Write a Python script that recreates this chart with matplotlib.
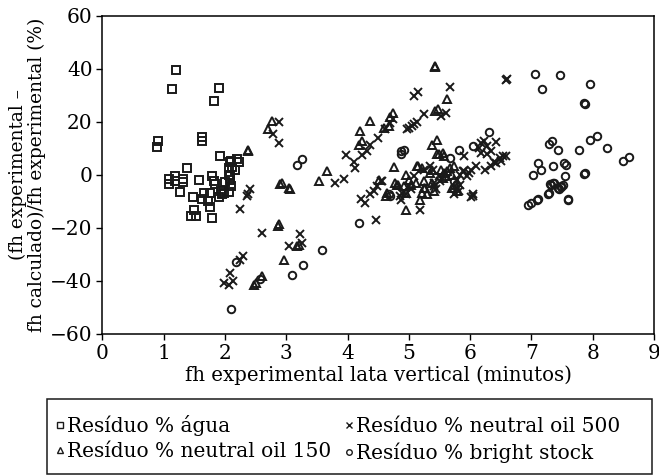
import matplotlib
matplotlib.use("Agg")
import matplotlib.pyplot as plt
from matplotlib.lines import Line2D
from matplotlib.patches import Rectangle

plt.rcParams['font.family'] = ['DejaVu Serif']

# Resíduo % água (squares)
agua_x = [1.20, 1.14, 1.90, 1.83, 0.91, 0.89, 1.63, 1.62, 1.92, 1.38,
          2.10, 2.20, 2.23, 2.06, 2.16, 2.08,
          1.09, 1.18, 1.09, 1.19, 1.32, 1.31, 1.58, 1.79, 1.83, 1.84,
          1.26, 1.48, 1.66, 1.76, 1.62, 1.72, 1.76, 1.49, 1.45, 1.53, 1.79,
          1.90, 1.94, 1.98, 1.95, 2.00, 2.09, 2.10, 2.06, 2.06, 2.12, 2.09]
agua_y = [39.5, 32.2, 32.7, 27.7, 12.6, 10.4, 14.2, 12.8, 7.2, 2.4,
          5.1, 6.0, 4.8, 2.6, 2.0, -0.3,
          -1.5, -0.5, -3.4, -2.4, -1.5, -2.6, -2.0, -0.5, -2.2, -3.4,
          -6.6, -8.5, -6.8, -6.8, -9.1, -10.0, -12.2, -13.4, -15.4, -15.4, -16.2,
          -8.5, -6.2, -6.8, -7.2, -2.6, -1.8, -4.3, -6.6, 0.1, 2.9, 4.8]

# Resíduo % neutral oil 150 (triangles)
no150_x = [2.37, 2.38, 2.77, 2.70, 3.66, 3.53, 2.90, 2.93, 3.04, 3.06, 2.86, 2.88,
           3.18, 3.21, 2.96, 2.47, 2.50, 2.60,
           4.21, 4.23, 4.19, 4.36, 4.74, 4.70, 4.67, 4.60, 5.42, 5.47, 5.46, 5.38, 4.76,
           5.42, 5.43, 5.62,
           4.51, 4.65, 4.62, 4.96, 5.14, 4.96, 5.19, 4.81, 4.92, 4.95, 5.25, 5.22, 5.11,
           5.46, 5.49, 5.55, 5.57, 5.15, 5.22, 5.35, 5.38, 5.00, 4.78, 4.83, 5.25, 5.03,
           5.52, 5.57, 5.63, 5.68, 5.73, 5.55, 5.60, 5.71, 5.38, 5.30, 5.27, 5.41,
           5.71, 5.76, 5.79]
no150_y = [9.2, 9.0, 20.2, 17.1, 1.4, -2.2, -3.3, -3.0, -4.9, -5.3, -19.1, -18.5,
           -26.9, -26.5, -32.0, -41.4, -40.8, -38.3,
           16.5, 12.7, 11.1, 20.2, 23.4, 21.9, 18.6, 17.7, 24.0, 24.9, 13.1, 11.4, 3.0,
           41.2, 40.8, 28.7,
           -1.8, -6.8, -8.1, 0.1, 3.5, -13.1, -9.3, -3.7, -4.3, -6.8, -4.9, -6.8, -3.0,
           7.7, 7.7, 8.3, 7.0, 3.2, 2.6, 0.8, 1.7, -1.8, -3.0, -3.7, -2.4, -3.7,
           2.0, 0.8, 1.4, 2.6, 3.2, -1.1, -0.5, 0.1, -3.0, -7.4, -4.9, -6.2,
           -4.9, -3.7, -6.2]

# Resíduo % neutral oil 500 (crosses)
no500_x = [2.89, 2.78, 2.88, 3.80, 3.95, 2.41, 2.38, 2.36, 2.24, 2.60, 3.23, 3.04, 3.26,
           2.29, 2.24, 2.09, 1.98, 2.14, 2.07,
           3.97, 4.10, 4.12, 4.24, 4.31, 4.37, 4.49, 4.61, 4.70, 4.75, 4.97, 5.06, 5.14,
           5.24, 5.09, 5.15, 5.68, 5.60, 5.52, 5.00, 5.08,
           6.58, 6.61,
           4.22, 4.29, 4.37, 4.43, 4.48, 4.54, 4.57, 4.88, 4.46, 5.18, 5.03, 5.41, 5.35,
           5.40, 5.24, 5.08, 5.00, 4.89, 5.49, 5.41, 4.86, 4.95, 5.51, 5.44,
           5.90, 6.17, 6.23, 6.42, 6.17, 6.28, 6.34, 6.48, 6.53, 6.58, 6.39, 6.25, 6.09,
           6.01, 5.98, 5.89, 5.83, 5.79,
           6.14, 6.28, 6.34, 6.42, 6.50, 5.90, 5.95, 5.84, 5.79, 6.04, 5.82, 5.74, 5.79,
           6.01, 6.05]
no500_y = [19.8, 15.5, 12.1, -3.0, -1.5, -5.5, -7.4, -8.1, -12.8, -21.9, -22.2, -26.9, -25.7,
           -30.7, -32.0, -37.0, -40.8, -40.2, -41.7,
           7.3, 4.8, 2.6, 7.3, 8.9, 11.4, 14.0, 17.4, 19.6, 21.1, 17.1, 18.3, 19.8,
           22.8, 29.7, 31.2, 33.2, 23.4, 22.1, 17.7, 19.0,
           35.6, 36.2,
           -9.1, -10.6, -7.4, -6.2, -4.3, -2.4, -2.4, -9.3, -16.9, -13.1, -5.5, -4.3, 3.2,
           2.0, 2.0, -0.5, -4.3, -6.8, -0.5, -3.0, -8.1, -7.4, -2.4, -5.5,
           7.0, 12.1, 12.7, 12.3, 8.3, 7.7, 8.9, 6.4, 7.0, 7.0, 4.8, 1.7, 3.3,
           2.0, 0.8, 1.4, 0.1, -1.8,
           10.2, 10.8, 3.2, 4.5, 5.1, 1.4, -0.5, -3.7, -4.9, -8.1, -6.2, -7.4, -5.5,
           -8.3, -7.4]

# Resíduo % bright stock (circles)
bright_x = [3.18, 3.26, 3.58, 3.28, 3.10, 2.18, 2.57, 2.10,
            4.88, 4.92, 4.87, 4.18, 4.69, 4.67, 5.74,
            5.82, 6.04, 6.31, 5.68,
            7.06, 7.18, 7.47, 7.96, 7.85, 7.87,
            7.33, 7.29, 7.43, 7.78, 7.96, 8.07, 8.24, 8.50, 8.60,
            7.10, 7.15, 7.03, 7.35, 7.53, 7.56, 7.54, 7.37, 7.31, 7.43, 7.49, 7.87, 7.85,
            7.10, 7.28, 7.59,
            6.95, 6.99, 7.09, 7.27, 7.32, 7.36, 7.45, 7.48, 7.51, 7.59]
bright_y = [3.6, 6.0, -28.2, -34.1, -37.6, -33.0, -39.3, -50.6,
            8.9, 9.5, 7.7, -18.1, -8.1, -7.4, -2.4,
            9.5, 10.8, 16.1, 6.4,
            38.2, 32.2, 37.5, 34.1, 27.2, 26.8,
            12.7, 11.8, 9.2, 9.3, 13.1, 14.6, 10.2, 5.4, 6.6,
            4.5, 1.7, 0.1, 3.3, 4.3, 3.6, -0.3, -3.0, -3.3, -4.9, -4.5, 0.8, 0.4,
            -9.1, -6.8, -9.1,
            -11.2, -10.8, -9.5, -7.1, -3.7, -3.0, -5.5, -4.3, -3.7, -9.3]

labels = ['Resíduo % água', 'Resíduo % neutral oil 150',
          'Resíduo % neutral oil 500', 'Resíduo % bright stock']
series = [(agua_x, agua_y, 's'), (no150_x, no150_y, '^'),
          (no500_x, no500_y, 'x'), (bright_x, bright_y, 'o')]

fig = plt.figure(figsize=(6.59, 4.76), dpi=100)
ax = fig.add_axes([102.3 / 659, 1 - 334 / 476, (654 - 102.3) / 659, (334 - 15.7) / 476])

for (xs, ys, m) in series:
    ax.plot(xs, ys, linestyle='none', marker=m, markersize=5.4,
            markerfacecolor='none', markeredgecolor='#1a1a1a', markeredgewidth=1.4)

ax.set_xlim(0, 9)
ax.set_ylim(-60, 60)
ax.set_xticks(range(0, 10))
ax.set_yticks(range(-60, 61, 20))
ax.tick_params(direction='out', length=4, width=1, labelsize=14.5, pad=3)
for s in ax.spines.values():
    s.set_linewidth(1.1)
ax.set_xlabel('fh experimental lata vertical (minutos)', fontsize=14.2, labelpad=2)
ax.set_ylabel('(fh experimental –\nfh calculado)/fh experimental (%)', fontsize=13.4,
              labelpad=3, linespacing=1.05)

# legend box
fig.add_artist(Rectangle((47 / 659, 2 / 476), (652 - 47) / 659, (476 - 398 - 3) / 476,
                         transform=fig.transFigure, fill=False, edgecolor='#1a1a1a', linewidth=1.1))
handles = [Line2D([], [], linestyle='none', marker=m, markersize=4,
                  markerfacecolor='none', markeredgecolor='#1a1a1a', markeredgewidth=1.0)
           for (_, _, m) in series]
fig.legend(handles, labels, ncol=2, loc='upper left', bbox_to_anchor=(55 / 659, 1 - 415 / 476),
           frameon=False, fontsize=14.5, handlelength=0.5, handletextpad=0.12,
           columnspacing=0.6, labelspacing=0.32, borderpad=0, borderaxespad=0)

fig.savefig('out.png', dpi=100)
